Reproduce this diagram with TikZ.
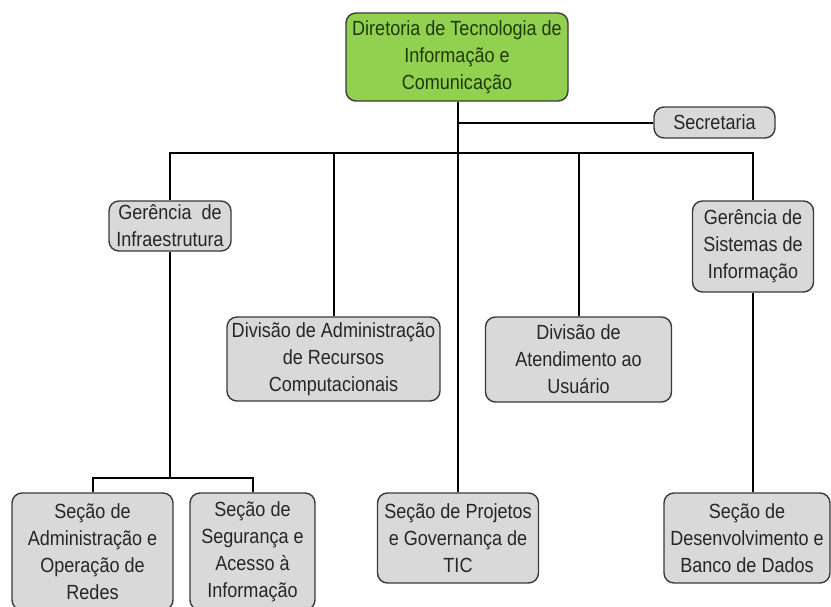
\documentclass[tikz,border=0pt]{standalone}
\usepackage{fontspec}
\setmainfont[FakeStretch=0.88]{Liberation Sans}
\definecolor{boxgray}{HTML}{D9D9D9}
\definecolor{boxgreen}{HTML}{92D050}
\definecolor{edge}{HTML}{3A3A3A}
\definecolor{txt}{HTML}{262626}
\definecolor{gtxt}{HTML}{1E3A0A}
\tikzset{
  orgbox/.style={draw=edge, line width=1.4pt, fill=boxgray, rounded corners=10pt,
    align=center, inner sep=0pt, text=txt, font=\fontsize{20.5}{27}\selectfont},
  topbox/.style={orgbox, fill=boxgreen, text=gtxt},
  link/.style={draw=black, line width=2pt}
}
\begin{document}
\begin{tikzpicture}[x=1pt,y=-1pt]
\useasboundingbox (0,0) rectangle (831,606);
\clip (0,0) rectangle (831,606);
\fill[white] (0,0) rectangle (831,606);
% nodes
\node[topbox, minimum width=222pt, minimum height=88pt] (dir) at (457,57) {Diretoria de Tecnologia de\\Informação e\\Comunicação};
\node[orgbox, minimum width=121pt, minimum height=31pt] (sec) at (714.5,122.5) {Secretaria};
\node[orgbox, minimum width=122pt, minimum height=50pt] (gi) at (170,226) {Gerência~ de\\Infraestrutura};
\node[orgbox, minimum width=213pt, minimum height=84pt] (da) at (333.5,359) {Divisão de Administração\\de Recursos\\Computacionais};
\node[orgbox, minimum width=186pt, minimum height=85pt] (dat) at (578.5,359.5) {Divisão de\\Atendimento ao\\Usuário};
\node[orgbox, minimum width=121pt, minimum height=91pt] (gs) at (753,246.5) {Gerência de\\Sistemas de\\Informação};
\node[orgbox, minimum width=161pt, minimum height=117pt] (s1) at (92.5,551.5) {Seção de\\Administração e\\Operação de\\Redes};
\node[orgbox, minimum width=125pt, minimum height=117pt] (s2) at (252.5,551.5) {Seção de\\Segurança e\\Acesso à\\Informação};
\node[orgbox, minimum width=161pt, minimum height=90pt] (sp) at (458,538) {Seção de Projetos\\e Governança de\\TIC};
\node[orgbox, minimum width=166pt, minimum height=90pt] (sd) at (747,538) {Seção de\\Desenvolvimento e\\Banco de Dados};
% connector anchors
\coordinate (barL) at (170,153);
\coordinate (barR) at (753,153);
\coordinate (sub) at (170,478);
% connectors
\draw[link] (dir.south -| sp.north) -- (sp.north);
\draw[link] (sec.west) -- (sec.west -| sp.north);
\draw[link] (gi.north) -- (barL) -- (barR) -- (gs.north);
\draw[link] (da.north) -- (da.north |- barL);
\draw[link] (dat.north) -- (dat.north |- barL);
\draw[link] (gi.south) -- (sub);
\draw[link] (s1.north) -- (s1.north |- sub) -- (s2.north |- sub) -- (s2.north);
\draw[link] (gs.south) -- (gs.south |- sd.north);
\end{tikzpicture}
\end{document}
